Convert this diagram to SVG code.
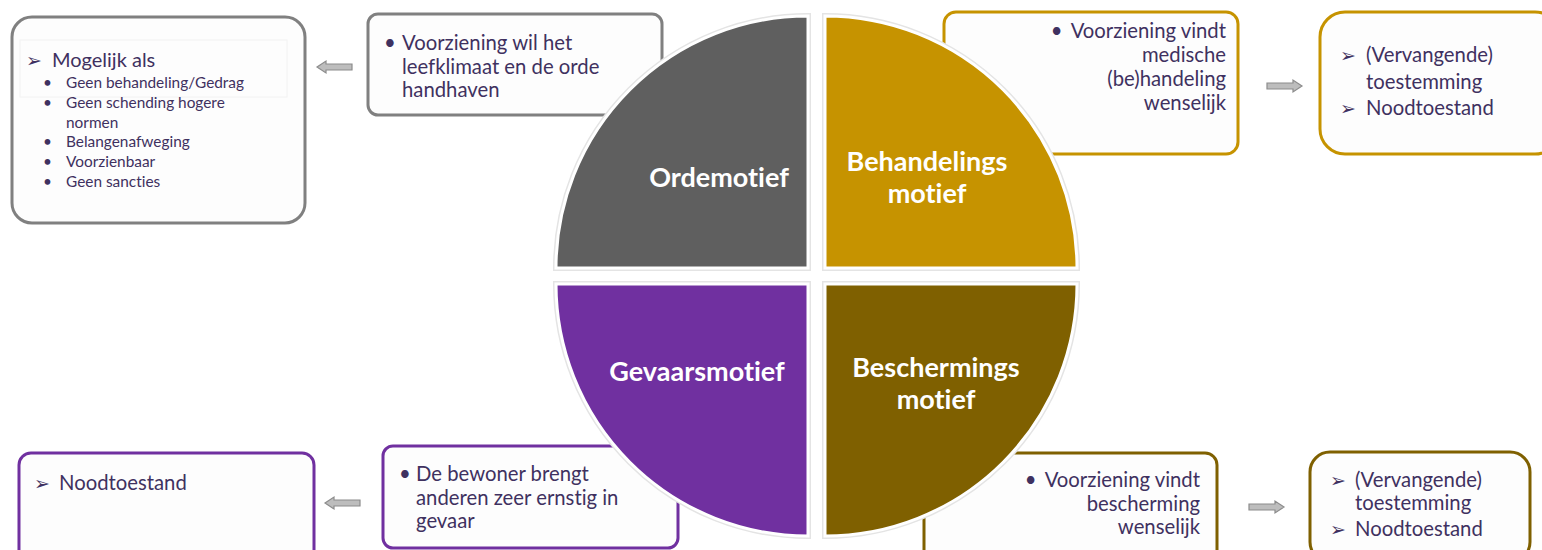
<svg xmlns="http://www.w3.org/2000/svg" width="1542" height="550" viewBox="0 0 1542 550">
<style>
text{font-variant-ligatures:none}
.box{fill:#fdfdfd;stroke-width:3}
.g{stroke:#808080}.y{stroke:#c69300}.p{stroke:#7030a0}.b{stroke:#7f6000}
.t{font-family:Lato,"Open Sans","DejaVu Sans",sans-serif;fill:#3f3160;font-size:20.3px}
.s{font-size:15.4px}
.m{font-size:20px}
.ar{font-family:"DejaVu Sans",sans-serif;font-size:19px;fill:#3f3160}
.q{stroke:#ffffff;stroke-width:3}
.qs{fill:none;stroke:#e4e4e4;stroke-width:6}
.lbl{font-family:Lato,"Open Sans",sans-serif;font-weight:bold;font-size:27px;fill:#ffffff;text-anchor:middle}
.arrow{fill:#bdbdbd;stroke:#8c8c8c;stroke-width:1.2}
</style>
<defs>
<path id="arrL" d="M0,0 L9,-6 L9,-3 L35,-3 L35,3 L9,3 L9,6 Z"/>
</defs>

<g id="box-mogelijk">
<rect class="box g" x="12" y="17" width="293" height="206" rx="20"/>
<rect x="20" y="40" width="267" height="57" fill="none" stroke="#f2f2f2" stroke-width="1"/>
<text class="ar" x="26" y="67">➢</text>
<text class="t m" x="52" y="67">Mogelijk als</text>
<g class="t s">
<text x="43" y="88">•</text><text x="66" y="88">Geen behandeling/Gedrag</text>
<text x="43" y="108">•</text><text x="66" y="108">Geen schending hogere</text>
<text x="66" y="128">normen</text>
<text x="43" y="147">•</text><text x="66" y="147">Belangenafweging</text>
<text x="43" y="167">•</text><text x="66" y="167">Voorzienbaar</text>
<text x="43" y="187">•</text><text x="66" y="187">Geen sancties</text>
</g>
</g>

<g id="box-orde">
<rect class="box g" x="368" y="14" width="294" height="101" rx="10"/>
<g class="t">
<text x="384" y="50">•</text>
<text x="402" y="50">Voorziening wil het</text>
<text x="402" y="74">leefklimaat en de orde</text>
<text x="402" y="97">handhaven</text>
</g>
</g>

<g id="box-behandeling">
<rect class="box y" x="944" y="12" width="294" height="142" rx="12"/>
<g class="t" text-anchor="end">
<text x="1226" y="38">•<tspan dx="8">Voorziening vindt</tspan></text>
<text x="1226" y="62">medische</text>
<text x="1226" y="86">(be)handeling</text>
<text x="1226" y="110">wenselijk</text>
</g>
</g>

<g id="box-toestemming-1">
<rect class="box y" x="1320" y="12" width="240" height="142" rx="25"/>
<text class="ar" x="1340" y="62">➢</text>
<text class="ar" x="1340" y="115">➢</text>
<g class="t">
<text x="1366" y="62">(Vervangende)</text>
<text x="1366" y="89">toestemming</text>
<text x="1366" y="115">Noodtoestand</text>
</g>
</g>

<g id="box-nood">
<rect class="box p" x="19" y="453" width="295" height="110" rx="12"/>
<text class="ar" x="34" y="490">➢</text>
<text class="t" x="59" y="490">Noodtoestand</text>
</g>

<g id="box-gevaar">
<rect class="box p" x="383" y="446" width="295" height="102" rx="10"/>
<g class="t">
<text x="399" y="481">•</text>
<text x="416" y="481">De bewoner brengt</text>
<text x="416" y="505">anderen zeer ernstig in</text>
<text x="416" y="528">gevaar</text>
</g>
</g>

<g id="box-bescherming">
<rect class="box b" x="924" y="453" width="293" height="110" rx="12"/>
<g class="t" text-anchor="end">
<text x="1200" y="487">•<tspan dx="8">Voorziening vindt</tspan></text>
<text x="1200" y="511">bescherming</text>
<text x="1200" y="534">wenselijk</text>
</g>
</g>

<g id="box-toestemming-2">
<rect class="box b" x="1310" y="452" width="220" height="110" rx="20"/>
<text class="ar" x="1330" y="487">➢</text>
<text class="ar" x="1330" y="536">➢</text>
<g class="t">
<text x="1355" y="487">(Vervangende)</text>
<text x="1355" y="510">toestemming</text>
<text x="1355" y="536">Noodtoestand</text>
</g>
</g>

<g id="connectors">
<use href="#arrL" class="arrow" transform="translate(317,67)"/>
<use href="#arrL" class="arrow" transform="translate(1302,86) scale(-1,1)"/>
<use href="#arrL" class="arrow" transform="translate(325,503)"/>
<use href="#arrL" class="arrow" transform="translate(1284,507) scale(-1,1)"/>
</g>

<g id="q-orde">
<path class="qs" d="M808,268 L556,268 A252,252 0 0 1 808,16 Z"/>
<path class="q" fill="#5f5f5f" d="M808,268 L556,268 A252,252 0 0 1 808,16 Z"/>
<text class="lbl" x="719" y="187">Ordemotief</text>
</g>
<g id="q-behandeling">
<path class="qs" d="M825,268 L825,16 A252,252 0 0 1 1077,268 Z"/>
<path class="q" fill="#c69300" d="M825,268 L825,16 A252,252 0 0 1 1077,268 Z"/>
<text class="lbl" x="927" y="171">Behandelings</text>
<text class="lbl" x="927" y="203">motief</text>
</g>
<g id="q-gevaar">
<path class="qs" d="M808,284 L808,536 A252,252 0 0 1 556,284 Z"/>
<path class="q" fill="#7030a0" d="M808,284 L808,536 A252,252 0 0 1 556,284 Z"/>
<text class="lbl" x="697" y="381">Gevaarsmotief</text>
</g>
<g id="q-bescherming">
<path class="qs" d="M825,284 L1077,284 A252,252 0 0 1 825,536 Z"/>
<path class="q" fill="#7f6000" d="M825,284 L1077,284 A252,252 0 0 1 825,536 Z"/>
<text class="lbl" x="936" y="377">Beschermings</text>
<text class="lbl" x="936" y="409">motief</text>
</g>
</svg>
